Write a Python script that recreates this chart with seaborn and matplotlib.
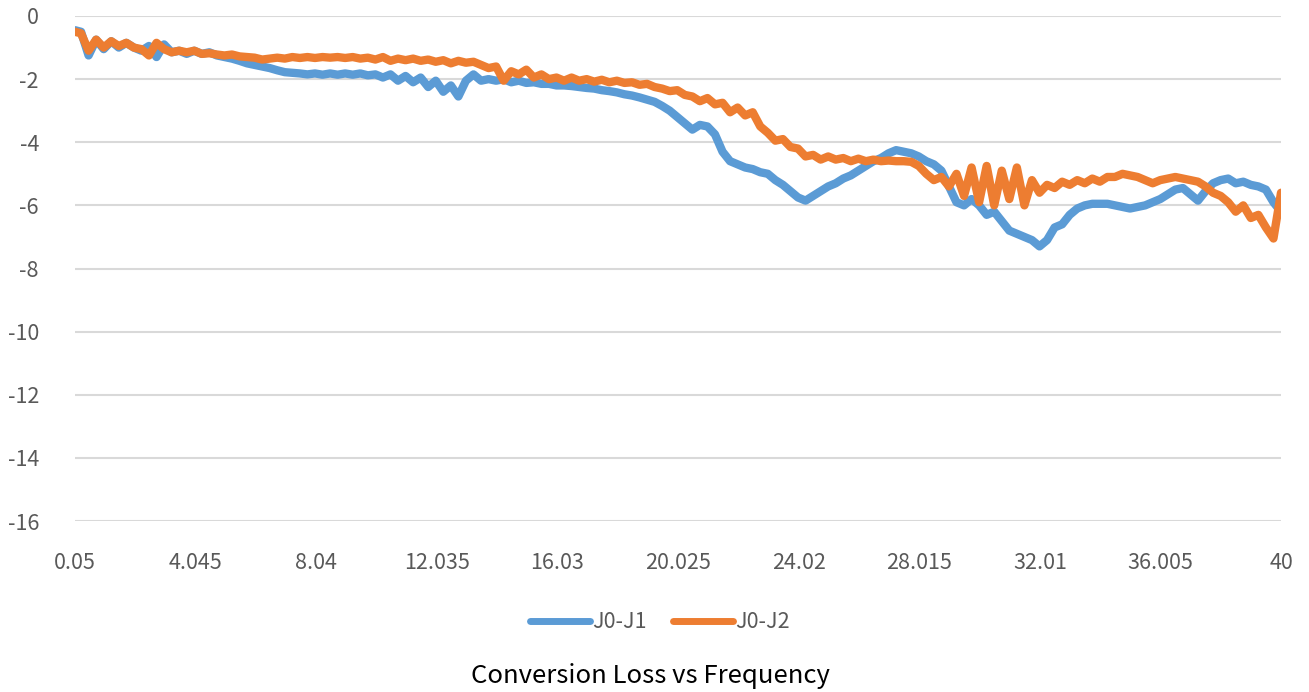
import matplotlib
matplotlib.use("Agg")
import matplotlib.pyplot as plt
import seaborn as sns
import pandas as pd
from matplotlib.lines import Line2D

freq = [0.05, 0.25, 0.5, 0.75, 1.0, 1.25, 1.5, 1.75, 2.0, 2.25, 2.5, 2.75, 3.0, 3.25, 3.5, 3.75,
        4.0, 4.25, 4.5, 4.75, 5.0, 5.25, 5.5, 5.75, 6.0, 6.25, 6.5, 6.75, 7.0, 7.25, 7.5, 7.75,
        8.0, 8.25, 8.5, 8.75, 9.0, 9.25, 9.5, 9.75, 10.0, 10.25, 10.5, 10.75, 11.0, 11.25, 11.5, 11.75,
        12.0, 12.25, 12.5, 12.75, 13.0, 13.25, 13.5, 13.75, 14.0, 14.25, 14.5, 14.75, 15.0, 15.25, 15.5, 15.75,
        16.0, 16.25, 16.5, 16.75, 17.0, 17.25, 17.5, 17.75, 18.0, 18.25, 18.5, 18.75, 19.0, 19.25, 19.5, 19.75,
        20.0, 20.25, 20.5, 20.75, 21.0, 21.25, 21.5, 21.75, 22.0, 22.25, 22.5, 22.75, 23.0, 23.25, 23.5, 23.75,
        24.0, 24.25, 24.5, 24.75, 25.0, 25.25, 25.5, 25.75, 26.0, 26.25, 26.5, 26.75, 27.0, 27.25, 27.5, 27.75,
        28.0, 28.25, 28.5, 28.75, 29.0, 29.25, 29.5, 29.75, 30.0, 30.25, 30.5, 30.75, 31.0, 31.25, 31.5, 31.75,
        32.0, 32.25, 32.5, 32.75, 33.0, 33.25, 33.5, 33.75, 34.0, 34.25, 34.5, 34.75, 35.0, 35.25, 35.5, 35.75,
        36.0, 36.25, 36.5, 36.75, 37.0, 37.25, 37.5, 37.75, 38.0, 38.25, 38.5, 38.75, 39.0, 39.25, 39.5, 39.75,
        40.0]

j0_j1 = [-0.45, -0.5, -1.25, -0.75, -1.05, -0.8, -1.0, -0.85, -1.0, -1.1, -0.95, -1.3, -0.9, -1.15, -1.1, -1.2,
         -1.1, -1.2, -1.15, -1.25, -1.3, -1.35, -1.42, -1.5, -1.55, -1.6, -1.65, -1.72, -1.78, -1.8, -1.82, -1.85,
         -1.82, -1.86, -1.82, -1.86, -1.82, -1.86, -1.82, -1.88, -1.85, -1.95, -1.85, -2.05, -1.9, -2.1, -1.95, -2.25,
         -2.05, -2.4, -2.2, -2.55, -2.05, -1.85, -2.05, -2.0, -2.05, -2.0, -2.1, -2.05, -2.12, -2.1, -2.15, -2.15,
         -2.2, -2.2, -2.22, -2.25, -2.28, -2.3, -2.35, -2.38, -2.42, -2.48, -2.52, -2.58, -2.65, -2.72, -2.85, -3.0,
         -3.2, -3.4, -3.6, -3.45, -3.5, -3.75, -4.3, -4.6, -4.7, -4.8, -4.85, -4.95, -5.0, -5.2, -5.35, -5.55,
         -5.75, -5.85, -5.7, -5.55, -5.4, -5.3, -5.15, -5.05, -4.9, -4.75, -4.6, -4.5, -4.35, -4.25, -4.3, -4.35,
         -4.45, -4.6, -4.7, -4.9, -5.4, -5.9, -6.0, -5.8, -6.0, -6.3, -6.2, -6.5, -6.8, -6.9, -7.0, -7.1,
         -7.3, -7.1, -6.7, -6.6, -6.3, -6.1, -6.0, -5.95, -5.95, -5.95, -6.0, -6.05, -6.1, -6.05, -6.0, -5.9,
         -5.8, -5.65, -5.5, -5.45, -5.65, -5.85, -5.55, -5.3, -5.2, -5.15, -5.3, -5.25, -5.35, -5.4, -5.5, -5.9,
         -6.2]

j0_j2 = [-0.5, -0.55, -1.1, -0.75, -1.0, -0.8, -0.95, -0.85, -1.0, -1.05, -1.25, -0.85, -1.05, -1.15, -1.1, -1.15,
         -1.1, -1.2, -1.18, -1.22, -1.25, -1.22, -1.28, -1.3, -1.32, -1.38, -1.35, -1.32, -1.35, -1.3, -1.33, -1.3,
         -1.33, -1.3, -1.32, -1.3, -1.33, -1.3, -1.35, -1.32, -1.38, -1.3, -1.42, -1.35, -1.4, -1.35, -1.42, -1.38,
         -1.45, -1.4, -1.5, -1.42, -1.48, -1.45, -1.55, -1.65, -1.6, -2.05, -1.75, -1.85, -1.7, -1.95, -1.85, -2.0,
         -1.95, -2.05, -1.95, -2.05, -2.0, -2.08, -2.02, -2.1, -2.05, -2.12, -2.1, -2.18, -2.15, -2.25, -2.3, -2.38,
         -2.35, -2.5, -2.55, -2.7, -2.6, -2.8, -2.75, -3.05, -2.9, -3.15, -3.05, -3.5, -3.7, -3.95, -3.9, -4.15,
         -4.2, -4.45, -4.4, -4.55, -4.45, -4.55, -4.5, -4.6, -4.52, -4.6, -4.55, -4.6, -4.58, -4.6, -4.6, -4.62,
         -4.75, -5.0, -5.2, -5.1, -5.4, -5.0, -5.7, -4.8, -5.9, -4.75, -6.0, -4.9, -5.8, -4.8, -6.0, -5.2,
         -5.6, -5.35, -5.45, -5.25, -5.35, -5.2, -5.3, -5.15, -5.25, -5.1, -5.1, -5.0, -5.05, -5.1, -5.2, -5.3,
         -5.2, -5.15, -5.1, -5.15, -5.2, -5.25, -5.4, -5.6, -5.7, -5.9, -6.2, -6.0, -6.4, -6.3, -6.7, -7.05,
         -5.6]

series_names = ["J0-J1", "J0-J2"]
colors = ["#5B9BD5", "#ED7D31"]
x_ticks = [0.05, 4.045, 8.04, 12.035, 16.03, 20.025, 24.02, 28.015, 32.01, 36.005, 40]
x_labels = ["0.05", "4.045", "8.04", "12.035", "16.03", "20.025", "24.02", "28.015", "32.01", "36.005", "40"]
y_ticks = [0, -2, -4, -6, -8, -10, -12, -14, -16]
title = "Conversion Loss vs Frequency"

df = pd.DataFrame({
    "freq": freq * 2,
    "loss": j0_j1 + j0_j2,
    "series": [series_names[0]] * len(freq) + [series_names[1]] * len(freq),
})

sns.set_theme(style="white")
plt.rcParams["font.family"] = ["Noto Sans CJK SC", "DejaVu Sans"]

fig = plt.figure(figsize=(13.09, 6.92), dpi=100)
ax = fig.add_axes([75 / 1309, 1 - 521 / 692, (1281 - 75) / 1309, (521 - 16) / 692])

sns.lineplot(data=df, x="freq", y="loss", hue="series", hue_order=series_names,
             palette=colors, linewidth=6.0, sort=False, estimator=None, ax=ax,
             legend=False)
for ln in ax.get_lines():
    ln.set_solid_joinstyle("round")
    ln.set_solid_capstyle("round")

ax.set_xlim(0.05, 40)
ax.set_ylim(-16, 0)
ax.set_xticks(x_ticks)
ax.set_xticklabels(x_labels)
ax.set_yticks(y_ticks)
ax.set_yticklabels([str(v) for v in y_ticks])
ax.set_xlabel("")
ax.set_ylabel("")
ax.grid(axis="y", color="#D9D9D9", linewidth=1.5)
ax.grid(axis="x", visible=False)
ax.set_axisbelow(True)
for s in ax.spines.values():
    s.set_visible(False)
ax.tick_params(axis="both", length=0, labelsize=15.5, labelcolor="#595959")
ax.tick_params(axis="x", pad=22)
ax.tick_params(axis="y", pad=26)

handles = [Line2D([0], [0], color=c, linewidth=5, solid_capstyle="round") for c in colors]
fig.legend(handles, series_names, loc="center", bbox_to_anchor=(0.504, 0.101), ncol=2,
           frameon=False, handlelength=2.8, handletextpad=0.1, columnspacing=1.2,
           prop={"size": 15.5}, labelcolor="#595959")

fig.text(0.497, 0.023, title, ha="center", va="center", fontsize=18.5, color="#000000")

fig.savefig("out.png", dpi=100)
